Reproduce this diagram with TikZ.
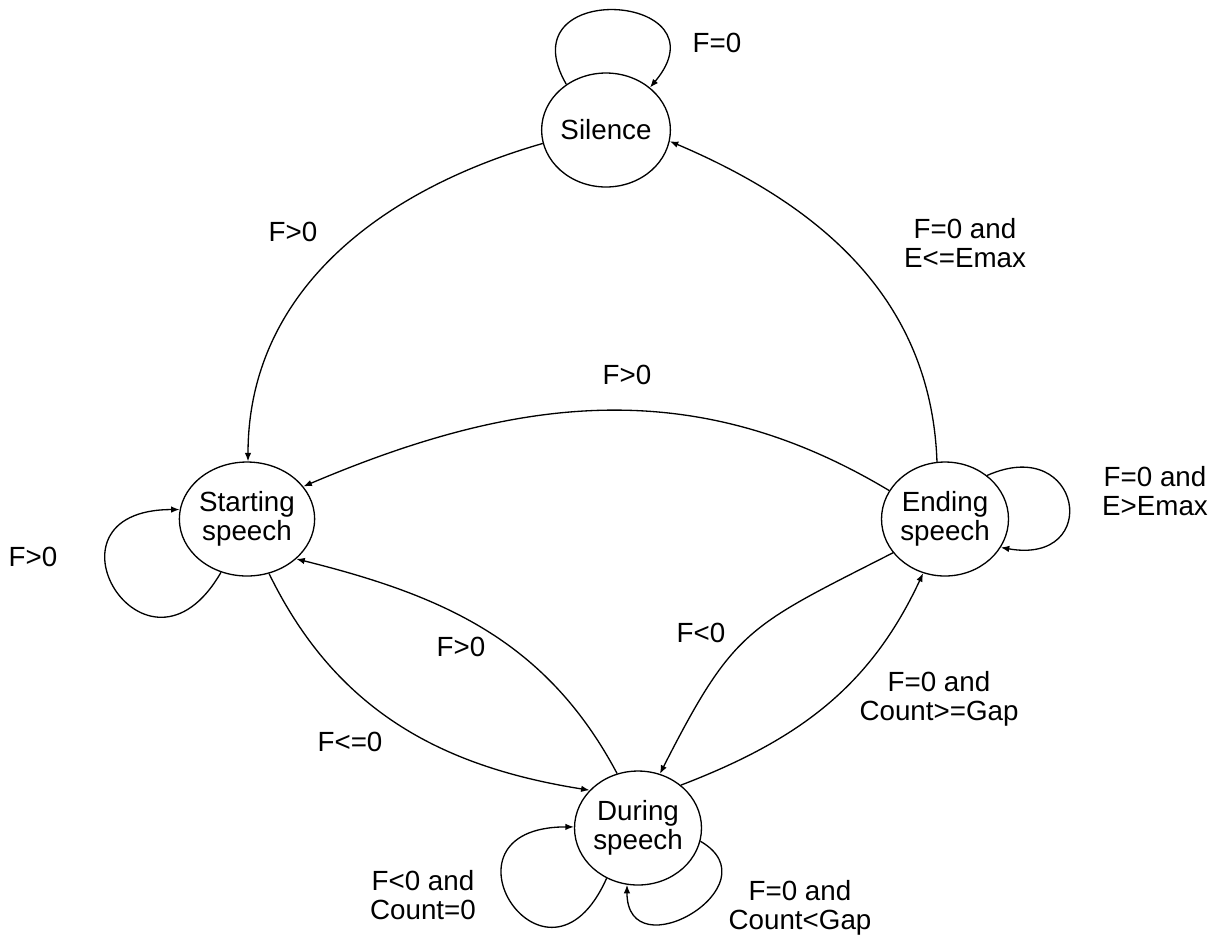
\documentclass[tikz,border=0pt]{standalone}
\usepackage{fontspec}
\setmainfont{Liberation Sans}
\usepackage{tikz}
\usetikzlibrary{arrows.meta}
\usetikzlibrary{shapes.geometric}

\begin{document}
\begin{tikzpicture}[x=0.02cm,y=0.02cm,font=\fontsize{15.8}{16.5}\selectfont]
    \tikzset{vertex/.style = {shape=ellipse,draw,line width=0.75pt,minimum width=2.54cm,minimum height=2.28cm,inner sep=0pt,align=center}}
    \tikzset{vertex2/.style = {shape=rectangle,draw=none,inner sep=0pt,align=center}}
    \tikzset{edge/.style = {-{Latex[length=1.7mm,width=1.3mm]},line width=0.75pt}}

    \useasboundingbox (0,0) rectangle (1222,-938);

    % vertices
    \node[vertex] (silence) at (606,-130) {Silence};
    \node[vertex] (starting) at (247,-519) {Starting\\speech};
    \node[vertex] (ending) at (945,-519) {Ending\\speech};
    \node[vertex] (during) at (638,-828) {During\\speech};

    % labels
    \node[vertex2] (l1) at (717,-43) {F=0};
    \node[vertex2] (l2) at (293,-232) {F>0};
    \node[vertex2] (l3) at (965,-243) {F=0 and\\E<=Emax};
    \node[vertex2] (l4) at (627,-375) {F>0};
    \node[vertex2] (l5) at (1155,-491) {F=0 and\\E>Emax};
    \node[vertex2] (l6) at (33,-557) {F>0};
    \node[vertex2] (l7) at (461,-647) {F>0};
    \node[vertex2] (l8) at (701,-633) {F<0};
    \node[vertex2] (l9) at (350,-742) {F<=0};
    \node[vertex2] (l10) at (939,-699) {F=0 and\\Count>=Gap};
    \node[vertex2] (l11) at (423,-895) {F<0 and\\Count=0};
    \node[vertex2] (l12) at (800,-908) {F=0 and\\Count<Gap};

    %edges
    \draw[edge] (silence.131) to[out=120,in=50,looseness=3.77] (silence.44);
    \draw[edge] (silence.192) to[out=196,in=90] (starting.89);
    \draw[edge] (ending.98) to[out=92,in=-23] (silence.-10);
    \draw[edge] (ending.153) to[out=149,in=23] (starting.30);
    \draw[edge] (starting.-68) to[out=-64,in=171] (during.142);
    \draw[edge] (during.111) to[out=118,in=-14] (starting.-39);
    \draw[edge] (ending.213) to[out=207,in=63,looseness=1.3] (during.68);
    \draw[edge] (during.45) to[out=21,in=-115] (ending.248);
    \draw[edge] (starting.244) to[out=240,in=180,looseness=5.1] (starting.172);
    \draw[edge] (ending.46) to[out=24,in=-10,looseness=3.63] (ending.-27);
    \draw[edge] (during.238) to[out=246,in=180,looseness=6.2] (during.179);
    \draw[edge] (during.-12) to[out=-30,in=270,looseness=2.63] (during.259);
\end{tikzpicture}
\end{document}
